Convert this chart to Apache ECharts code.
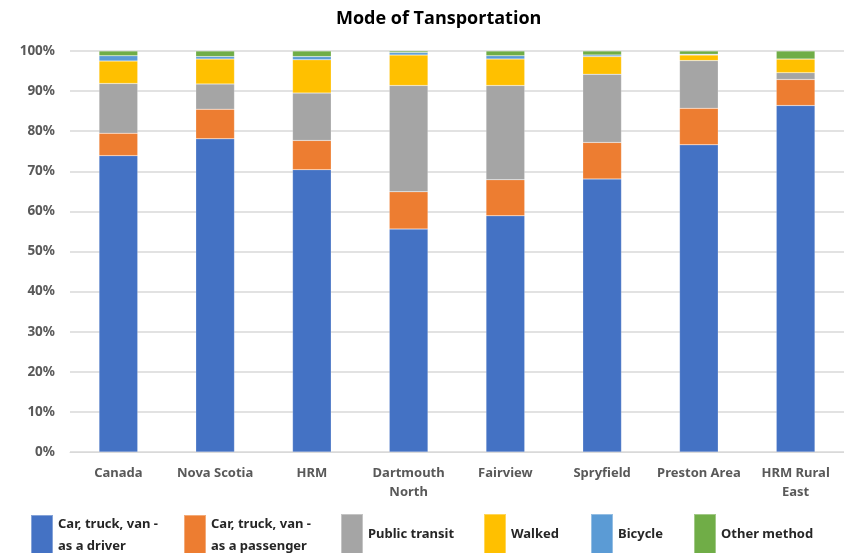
<!DOCTYPE html>
<html>
<head>
<meta charset="utf-8">
<script src="https://cdn.jsdelivr.net/npm/echarts@6/dist/echarts.min.js"></script>
<style>html,body{margin:0;padding:0;background:#fff}#c{width:844px;height:553px}</style>
</head>
<body>
<div id="c"></div>
<script>
var categories = ['Canada', 'Nova Scotia', 'HRM', 'Dartmouth\nNorth', 'Fairview', 'Spryfield', 'Preston Area', 'HRM Rural\nEast'];
var driver    = [73.9, 78.1, 70.4, 55.6, 58.9, 68.1, 76.6, 86.4];
var passenger = [5.6, 7.4, 7.3, 9.3, 9.0, 9.1, 9.1, 6.5];
var transit   = [12.4, 6.3, 11.8, 26.5, 23.5, 17.0, 11.9, 1.7];
var walked    = [5.6, 6.2, 8.3, 7.6, 6.6, 4.4, 1.4, 3.4];
var bicycle   = [1.3, 0.6, 0.8, 0.6, 0.8, 0.4, 0.2, 0.0];
var other     = [1.2, 1.4, 1.4, 0.4, 1.2, 1.0, 0.8, 2.0];
var seriesNames = ['Car, truck, van -\nas a driver', 'Car, truck, van -\nas a passenger', 'Public transit', 'Walked', 'Bicycle', 'Other method'];
var yTicks = [0, 10, 20, 30, 40, 50, 60, 70, 80, 90, 100];

var colors = ['#4472C4', '#ED7D31', '#A5A5A5', '#FFC000', '#5B9BD5', '#70AD47'];
var data = [driver, passenger, transit, walked, bicycle, other];
var font = "'Noto Sans', sans-serif";
var legendLeft = [30, 183, 340, 483, 590, 693];

var chart = echarts.init(document.getElementById('c'));
chart.setOption({
  animation: false,
  color: colors,
  title: {
    text: 'Mode of Tansportation', left: 331, top: 5,
    textStyle: {fontFamily: "'Open Sans', sans-serif", fontWeight: 'bold', fontSize: 18, color: '#000'}
  },
  legend: seriesNames.map(function (n, i) {
    return {
      data: [n], left: legendLeft[i], top: 513, itemWidth: 22, itemHeight: 40, itemGap: 10,
      icon: 'rect', padding: 0,
      textStyle: {fontFamily: font, fontWeight: 'bold', fontSize: 13, color: '#262626', lineHeight: 22}
    };
  }),
  grid: {left: 70, right: -7, top: 51, bottom: 101},
  xAxis: {
    type: 'category', data: categories,
    axisTick: {show: false},
    axisLine: {lineStyle: {color: '#d9d9d9', width: 1}},
    axisLabel: {fontFamily: font, fontWeight: 'bold', fontSize: 13, color: '#595959', margin: 12, lineHeight: 19, interval: 0}
  },
  yAxis: {
    type: 'value', min: yTicks[0], max: yTicks[yTicks.length - 1], interval: 10,
    axisLine: {show: false}, axisTick: {show: false},
    splitLine: {lineStyle: {color: '#d9d9d9', width: 1.5}},
    axisLabel: {formatter: '{value}%', fontFamily: font, fontWeight: 'bold', fontSize: 13.5, color: '#595959', margin: 15}
  },
  series: seriesNames.map(function (n, i) {
    return {
      name: n, type: 'bar', stack: 'total', data: data[i], barWidth: '40%',
      itemStyle: {color: colors[i], borderColor: 'rgba(255,255,255,0.35)', borderWidth: 0.5}
    };
  })
});
</script>
</body>
</html>
